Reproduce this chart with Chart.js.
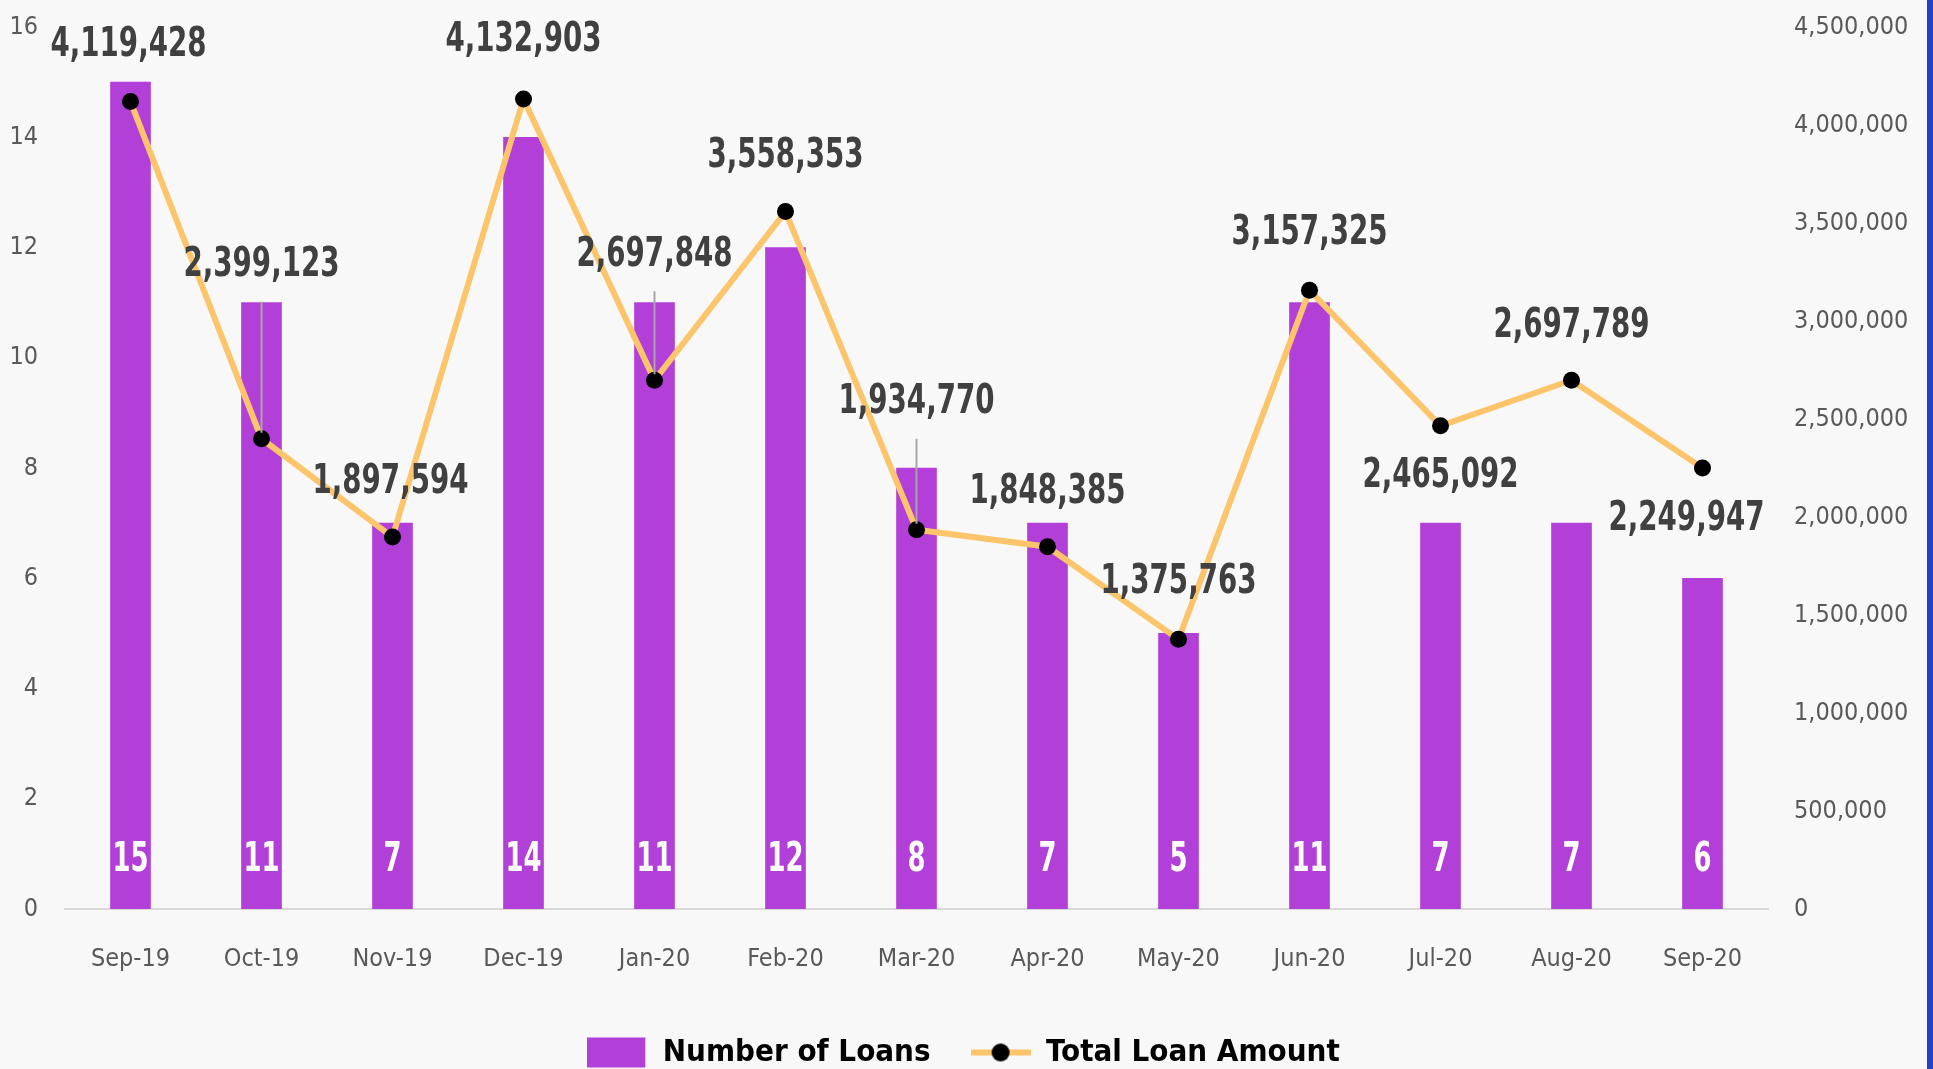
<!DOCTYPE html>
<html>
<head>
<meta charset="utf-8">
<title>Loans per month</title>
<script src="https://cdn.jsdelivr.net/npm/chart.js@4.4.1/dist/chart.umd.min.js"></script>
<style>
    html, body { margin: 0; padding: 0; background: #f8f8f8; }
    #wrap { position: relative; width: 1927px; height: 1069px; border-right: 6px solid #2442c9; }
</style>
</head>
<body>
<div id="wrap"><canvas id="loansChart"></canvas></div>
<script>
// ===== dados =====
const months = ['Sep-19', 'Oct-19', 'Nov-19', 'Dec-19', 'Jan-20', 'Feb-20', 'Mar-20',
                'Apr-20', 'May-20', 'Jun-20', 'Jul-20', 'Aug-20', 'Sep-20'];
const loanCounts = [15, 11, 7, 14, 11, 12, 8, 7, 5, 11, 7, 7, 6];
const loanAmounts = [4119428, 2399123, 1897594, 4132903, 2697848, 3558353, 1934770,
                     1848385, 1375763, 3157325, 2465092, 2697789, 2249947];

// ===== estilo =====
const FONT = "'DejaVu Sans Condensed', 'DejaVu Sans', sans-serif";
const BAR_COLOR = '#b23fd8';
const LINE_COLOR = '#fcc56c';

// deslocamento dos rótulos de valor (px, relativo ao ponto)
const amountLabelShift = [[-2, -56], [0, -173], [-2, -54], [0, -58], [0, -125], [0, -55], [0, -127],
                          [0, -54], [0, -57], [0, -57], [0, 51], [0, -54], [-16, 52]];
const leaderIdx = [1, 4, 6];

Chart.defaults.font.family = FONT;

// símbolos da legenda
function makeSwatch(kind) {
    const c = document.createElement('canvas');
    c.width = 60;
    c.height = 32;
    const g = c.getContext('2d');
    if (kind === 'bar') {
        g.fillStyle = BAR_COLOR;
        g.fillRect(0, 1, 58, 30);
    } else {
        g.strokeStyle = LINE_COLOR;
        g.lineWidth = 6;
        g.beginPath();
        g.moveTo(0, 16);
        g.lineTo(60, 16);
        g.stroke();
        g.fillStyle = '#000';
        g.beginPath();
        g.arc(30, 16, 9, 0, Math.PI * 2);
        g.fill();
    }
    return c;
}
const barSwatch = makeSwatch('bar');
const lineSwatch = makeSwatch('line');

// texto estreito (fonte tipo Calibri)
function narrowText(ctx, text, x, y, sx) {
    ctx.save();
    ctx.translate(x, y);
    ctx.scale(sx, 1);
    ctx.fillText(text, 0, 0);
    ctx.restore();
}

// rótulos dos valores (barras e linha)
const valueLabels = {
    id: 'valueLabels',
    afterDatasetsDraw(chart) {
        const ctx = chart.ctx;
        const barMeta = chart.getDatasetMeta(0);
        const lineMeta = chart.getDatasetMeta(1);
        const base = chart.scales.y.getPixelForValue(0);
        ctx.save();
        ctx.textAlign = 'center';
        ctx.textBaseline = 'middle';

        ctx.font = 'bold 40px ' + FONT;
        ctx.fillStyle = '#ffffff';
        barMeta.data.forEach((bar, i) => {
            narrowText(ctx, String(loanCounts[i]), bar.x, base - 48, 0.72);
        });

        lineMeta.data.forEach((pt, i) => {
            const [dx, dy] = amountLabelShift[i];
            const lx = pt.x + dx;
            const ly = pt.y + dy;
            if (leaderIdx.includes(i)) {
                ctx.strokeStyle = '#a6a6a6';
                ctx.lineWidth = 2;
                ctx.beginPath();
                ctx.moveTo(pt.x, ly + 36);
                ctx.lineTo(pt.x, pt.y - 6);
                ctx.stroke();
            }
            ctx.fillStyle = '#404040';
            narrowText(ctx, loanAmounts[i].toLocaleString('en-US'), lx, ly, 0.77);
        });
        ctx.restore();
    }
};

// tira o espaço extra que a escala reserva em cima/baixo
function fixVertical(width) {
    return function (s) {
        s.width = width;
        s.paddingTop = 0;
        s.paddingBottom = 0;
    };
}

new Chart(document.getElementById('loansChart'), {
    type: 'bar',
    data: {
        labels: months,
        datasets: [
            {
                label: 'Number of Loans',
                data: loanCounts,
                backgroundColor: BAR_COLOR,
                barThickness: 40,
                yAxisID: 'y',
                order: 1
            },
            {
                type: 'line',
                label: 'Total Loan Amount',
                data: loanAmounts,
                borderColor: LINE_COLOR,
                borderWidth: 6,
                pointRadius: 8.5,
                pointBackgroundColor: '#000',
                pointBorderColor: '#000',
                pointBorderWidth: 0,
                tension: 0,
                yAxisID: 'y1',
                order: 0
            }
        ]
    },
    options: {
        responsive: true,
        maintainAspectRatio: false,
        animation: false,
        events: [],
        layout: { autoPadding: false, padding: { top: 27, left: 0, right: 0, bottom: -9 } },
        plugins: {
            tooltip: { enabled: false },
            legend: {
                position: 'bottom',
                labels: {
                    usePointStyle: true,
                    pointStyleWidth: 60,
                    boxHeight: 32,
                    padding: 40,
                    color: '#000',
                    font: { size: 31, weight: 'bold' },
                    sort: (a, b) => a.datasetIndex - b.datasetIndex,
                    generateLabels(chart) {
                        const items = Chart.defaults.plugins.legend.labels.generateLabels(chart);
                        items.forEach(it => {
                            it.pointStyle = it.datasetIndex === 0 ? barSwatch : lineSwatch;
                        });
                        return items;
                    }
                }
            }
        },
        scales: {
            x: {
                grid: { display: false, drawTicks: false },
                border: { color: '#d9d9d9', width: 2 },
                ticks: { color: '#595959', font: { size: 25 }, padding: 35 },
                afterFit(s) { s.height = 88; }
            },
            y: {
                position: 'left',
                min: 0,
                max: 16,
                ticks: { stepSize: 2, color: '#595959', font: { size: 25 }, padding: 27 },
                grid: { display: false, drawTicks: false },
                border: { display: false },
                afterFit: fixVertical(65)
            },
            y1: {
                position: 'right',
                min: 0,
                max: 4500000,
                ticks: {
                    stepSize: 500000,
                    color: '#595959',
                    font: { size: 25 },
                    padding: 26,
                    callback: (v) => v.toLocaleString('en-US')
                },
                grid: { display: false, drawTicks: false },
                border: { display: false },
                afterFit: fixVertical(159)
            }
        }
    },
    plugins: [valueLabels]
});
</script>
</body>
</html>
